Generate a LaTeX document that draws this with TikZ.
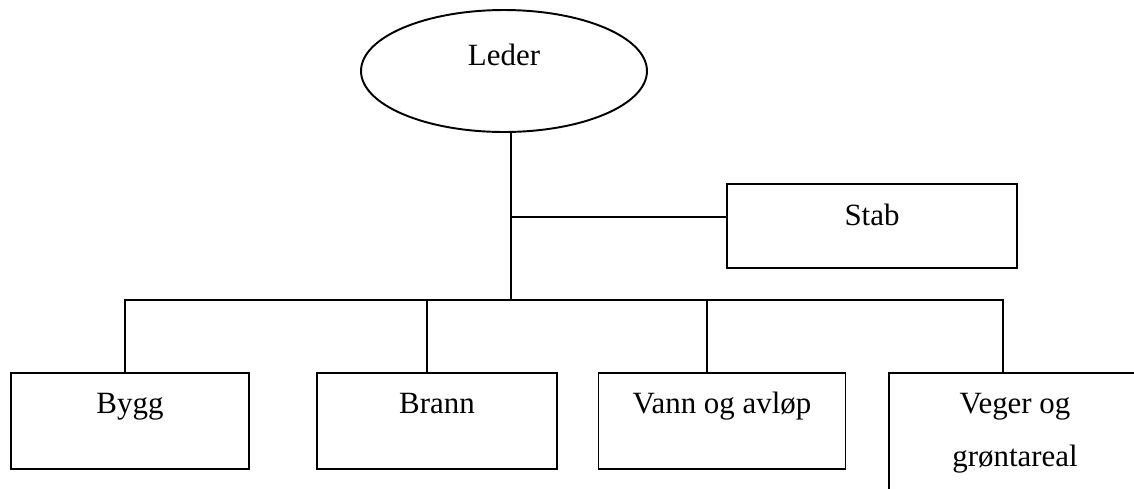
\documentclass[tikz,border=0pt]{standalone}
\usepackage{fontspec}
\setmainfont{Liberation Serif}
\usetikzlibrary{shapes.geometric}

\tikzset{
  orgline/.style={line width=1.1pt},
  orgbox/.style={draw, orgline, inner sep=0pt, minimum height=1.92cm, text height=0.8cm, text depth=1.12cm},
  chief/.style={draw, ellipse, orgline, inner sep=0pt, minimum width=5.72cm, minimum height=2.44cm, text height=0.5cm, text depth=0.74cm},
}

\begin{document}
\begin{tikzpicture}[x=0.02cm, y=-0.02cm, font=\fontsize{17.6pt}{21pt}\selectfont]
    \useasboundingbox (0,0) rectangle (1134,488);
    \clip (0,0) rectangle (1134,488);

    % Leader
    \node[chief] (leder) at (504,71) {Leder};

    % Staff
    \node[orgbox, minimum width=5.8cm, minimum height=1.68cm, text height=0.82cm, text depth=0.86cm] (stab) at (872,226) {Stab};

    % Units
    \node[orgbox, minimum width=4.76cm] (bygg) at (130,421) {Bygg};
    \node[orgbox, minimum width=4.8cm] (brann) at (437,421) {Brann};
    \node[orgbox, minimum width=4.94cm] (vann) at (722,421) {Vann og avløp};
    \node[orgbox, minimum width=5.04cm, minimum height=2.94cm, text depth=2.14cm] (veger) at (1015,446.5)
        {\parbox[t]{4.5cm}{\centering Veger og\\[0.34cm]grøntareal}};

    % Lines
    \coordinate (hub) at (511,300);
    \coordinate (stabjoin) at (511,217);
    \coordinate (byggup) at ([xshift=-0.1cm]bygg.north);
    \coordinate (brannup) at ([xshift=-0.2cm]brann.north);
    \coordinate (vannup) at ([xshift=-0.3cm]vann.north);
    \coordinate (vegerup) at ([xshift=-0.24cm]veger.north);

    \draw[orgline] (leder.south -| hub) -- (hub);
    \draw[orgline] (stabjoin) -- (stabjoin -| stab.west);
    \draw[orgline] (byggup) |- (hub) -| (vegerup);
    \draw[orgline] (brannup) -- (brannup |- hub);
    \draw[orgline] (vannup) -- (vannup |- hub);
\end{tikzpicture}
\end{document}
